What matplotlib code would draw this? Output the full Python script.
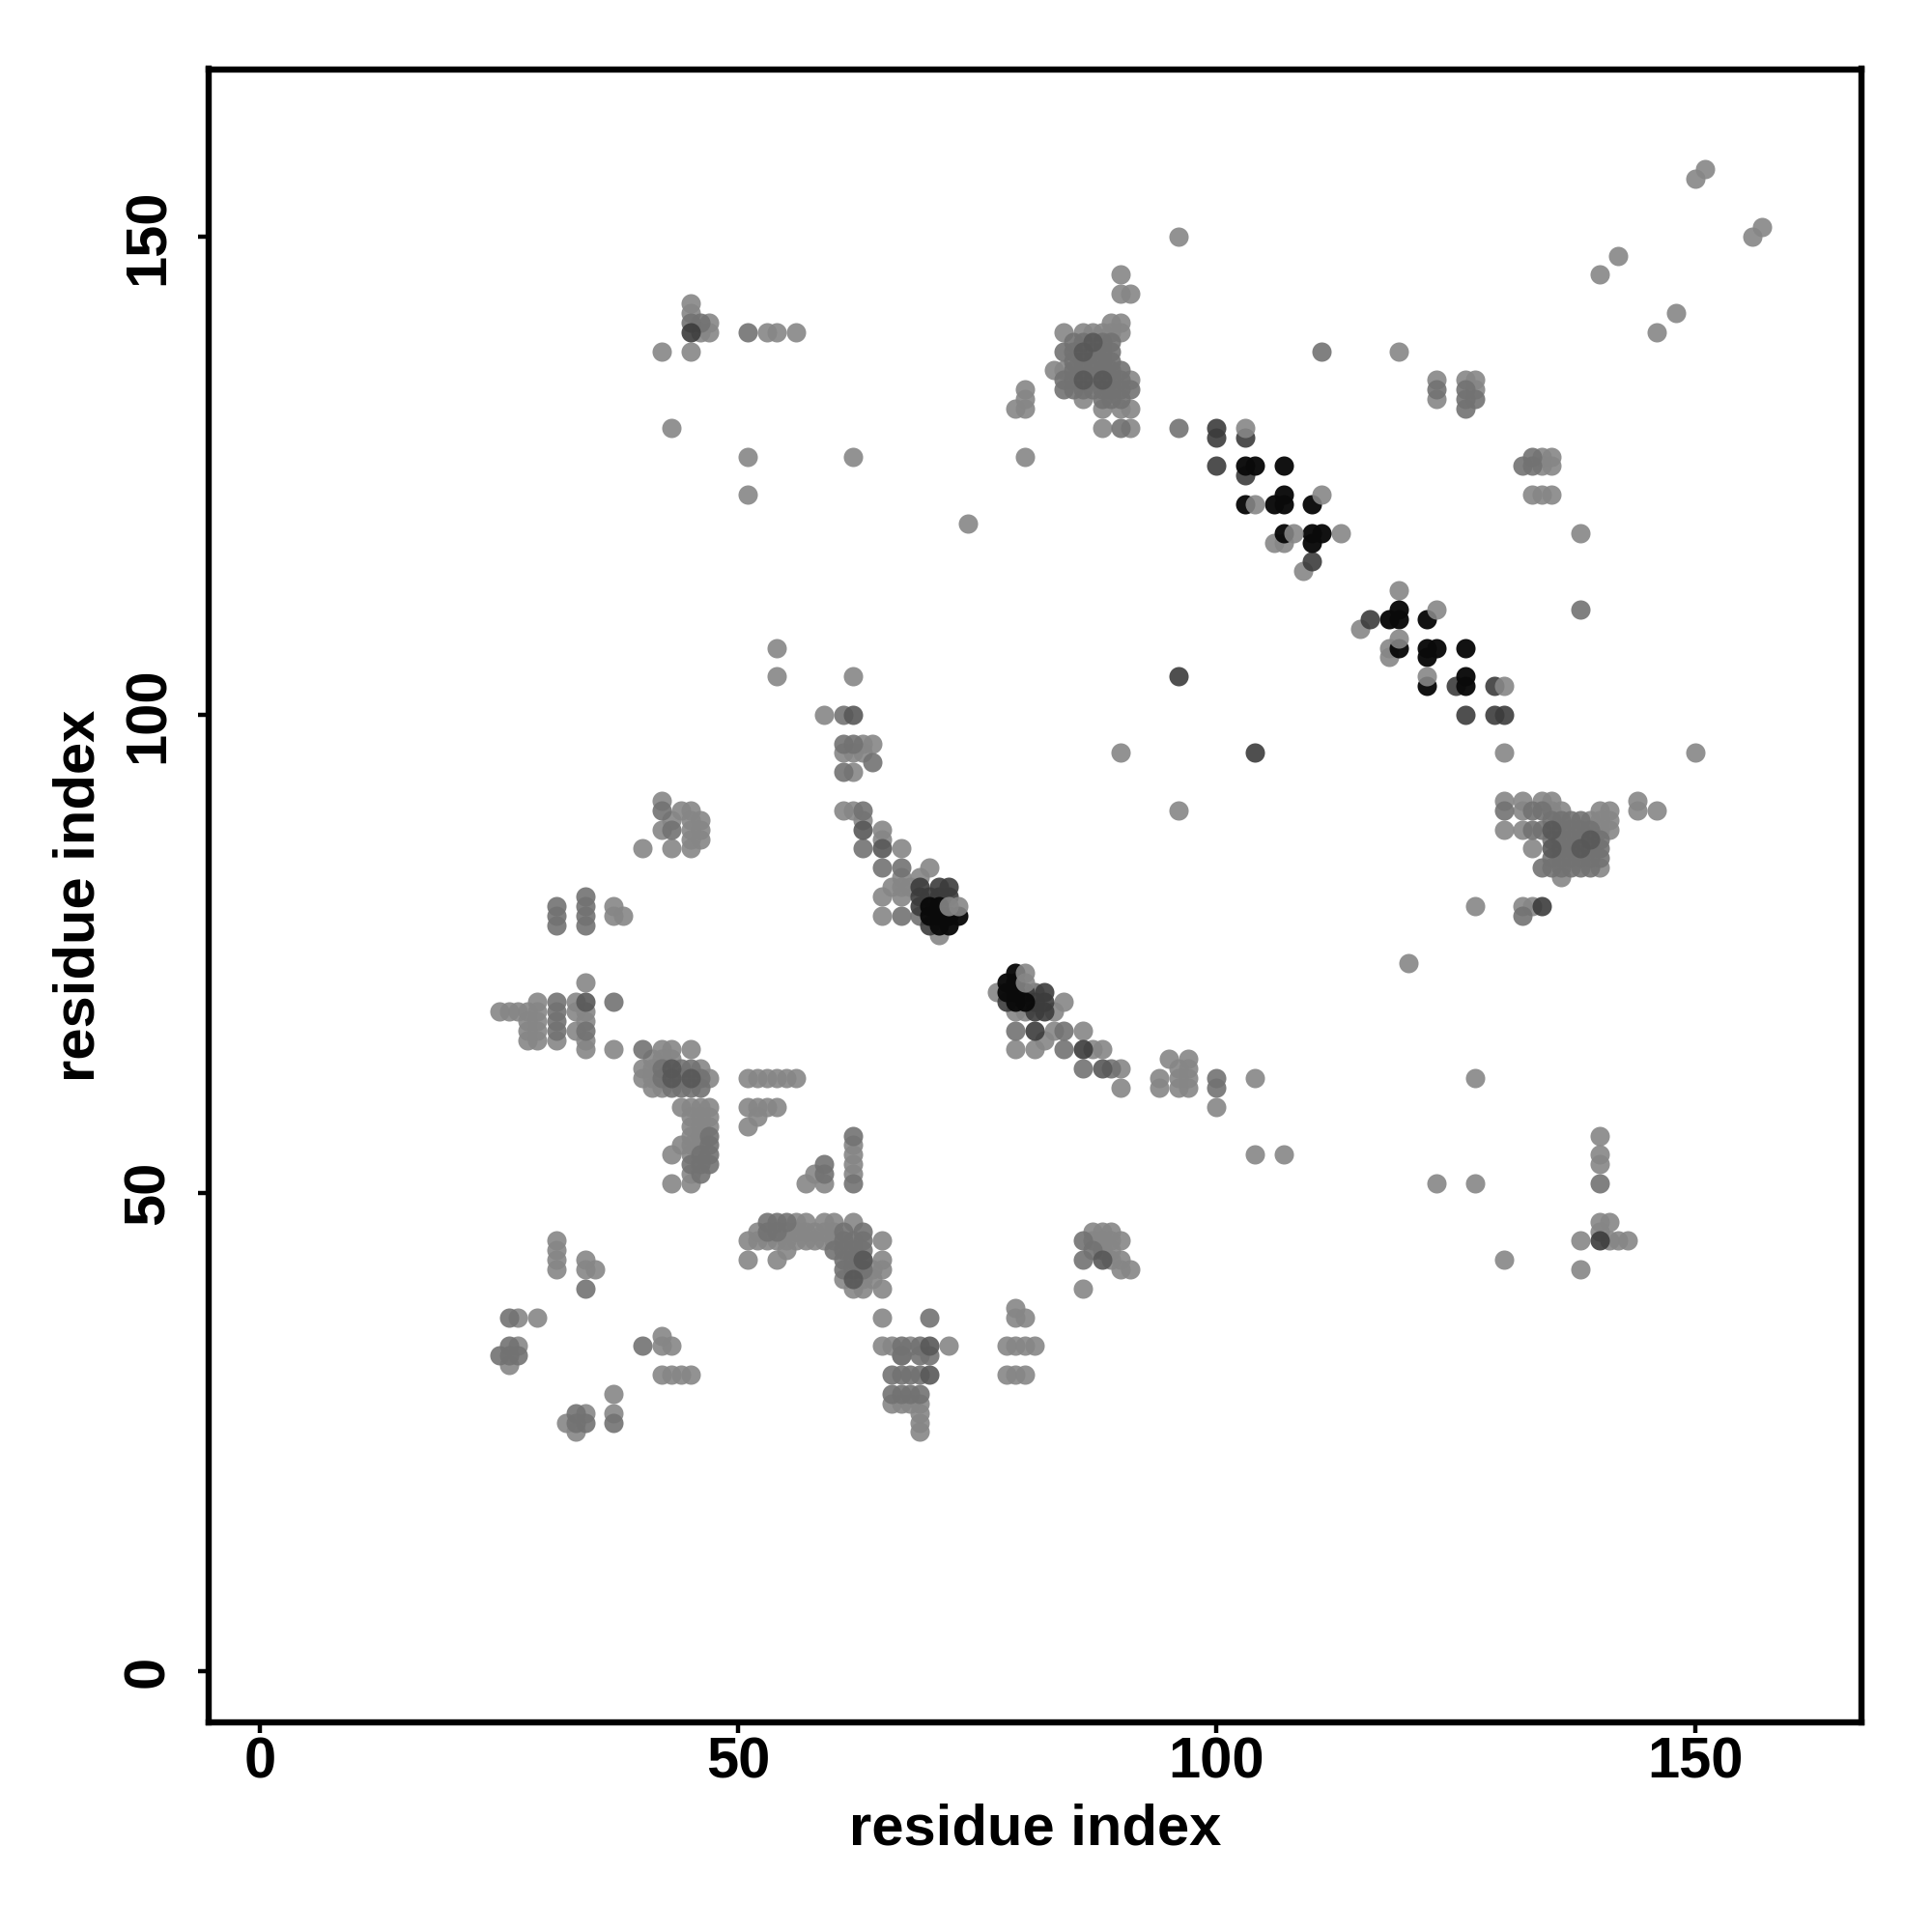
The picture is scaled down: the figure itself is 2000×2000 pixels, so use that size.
import matplotlib
matplotlib.use("Agg")
from matplotlib import pyplot as plt

# (residue x, residue y) pairs, one list per grey level
black = [
    (107,126),(103,126),(104,126),(103,122),(106,122),(107,122),(107,123),(110,122),
    (107,119),(110,119),(111,119),(110,118),(119,111),(119,110),(118,110),(119,107),
    (122,110),(122,107),(123,107),(122,106),(126,107),(122,103),(126,104),(126,103),
    (70,80),(70,79),(71,79),(72,79),(73,79),(71,78),(72,78),(71,80),
    (79,73),(78,72),(79,72),(78,71),(79,71),(79,70),(80,70),
]
dark = [
    (100,130),(100,129),(103,129),(100,126),(103,125),(110,116),(116,110),
    (125,103),(129,103),(126,100),(129,100),(130,100),(96,104),(104,96),(45,140),
    (69,82),(69,81),(69,80),(70,78),(72,82),(72,81),(71,81),(71,82),(70,81),
    (78,70),(81,69),(82,69),(82,70),(82,71),(81,70),(80,71),(81,67),(86,65),
    (140,45),(134,80),
]
# darker spots inside the dense clusters
dim = [
    (62,100),(63,88),(65,86),(63,43),(62,41),(34,70),(43,63),(43,62),(45,62),
    (86,135),(88,135),(86,138),(87,139),(135,88),(135,86),(138,86),(139,87),
    (70,34),(70,31),(88,43),(88,63),
]
mid = [
    (51,140),(45,141),(46,141),(84,138),(84,135),(84,134),(85,139),(86,139),(88,139),(89,139),
    (85,138),(87,138),(88,138),(89,138),(85,137),(86,137),(87,137),(88,137),(89,137),
    (85,136),(86,136),(87,136),(88,136),(89,136),(90,136),(85,135),(87,135),(89,135),(90,135),
    (85,134),(86,134),(87,134),(88,134),(89,134),(90,134),(91,134),(88,133),(89,133),(90,133),
    (90,130),(96,130),(111,138),(138,111),(126,134),(126,133),(126,132),(133,127),(133,126),
    (132,126),(130,90),(133,90),(134,90),(133,88),(134,84),(135,89),(136,89),(137,89),(138,89),
    (134,88),(136,88),(137,88),(138,88),(139,88),(136,87),(137,87),(138,87),(140,87),(135,87),
    (136,86),(137,86),(139,86),(140,86),(135,85),(136,85),(137,85),(138,85),(139,85),(140,85),
    (135,84),(136,84),(137,84),(138,84),(139,84),(132,79),(61,100),(61,97),(62,97),(64,95),(61,94),
    (63,90),(67,84),(65,84),(63,86),(67,79),(69,79),(81,71),(84,67),(79,67),(84,65),(86,63),(89,63),
    (100,62),(100,61),(31,80),(31,79),(31,78),(34,81),(34,80),(34,79),(34,78),
    (31,70),(31,69),(31,68),(31,67),(34,67),(37,70),(40,65),(44,63),(42,63),(44,62),(46,62),(42,62),
    (43,61),(44,61),(45,61),(46,61),(45,63),(46,54),(47,56),(47,55),(47,54),(47,53),(46,53),(46,52),
    (45,53),(59,53),(59,52),(53,47),(54,47),(55,47),(53,46),(54,46),(61,46),(62,45),(63,45),
    (61,45),(62,44),(63,44),(61,44),(61,43),(62,43),(61,42),(62,42),(63,42),(63,46),(60,44),
    (26,37),(40,34),(34,40),(26,34),(26,33),(27,33),(25,33),(66,31),(67,31),(68,31),(69,31),
    (67,34),(69,34),(69,33),(70,33),(67,33),(66,29),(67,29),(68,29),(69,29),(33,27),(33,26),(34,26),(37,26),
    (43,88),(42,90),(140,51),(123,134),(127,133),(86,43),(87,44),(62,56),(62,51),(86,45),(70,37),
]
light = [
    (150,156),(151,157),(156,150),(157,151),(140,146),(142,148),(146,140),(148,142),(96,150),
    (90,146),(90,144),(91,144),(45,143),(45,142),(46,140),(47,141),(47,140),(42,138),(45,138),
    (53,140),(54,140),(56,140),(43,130),(51,127),(51,123),(62,127),(74,120),(80,134),(80,133),
    (79,132),(80,132),(80,127),(89,141),(90,141),(84,140),(86,140),(87,140),(88,140),(89,140),(90,140),
    (83,136),(84,136),(91,135),(86,133),(88,132),(90,132),(91,132),(88,130),(91,130),
    (106,118),(107,118),(113,119),(109,115),(119,138),
    (119,113),(115,109),(118,107),(118,106),(130,96),(150,96),
    (138,119),(123,135),(123,133),(126,135),(127,135),(127,134),(134,127),(135,127),(134,126),(135,126),
    (133,123),(134,123),(135,123),(127,80),(132,80),(133,80),(120,74),(127,62),(104,62),(104,54),(107,54),
    (123,51),(127,51),(130,43),(140,56),(140,54),(140,53),(138,45),(138,42),(140,47),(141,47),(140,46),
    (141,45),(142,45),(143,45),(90,96),(96,90),(130,91),(130,88),(132,91),(132,90),(132,88),(134,91),
    (135,91),(135,90),(136,90),(133,86),(136,83),(140,84),(140,90),(141,90),(141,89),(139,89),(140,89),
    (140,88),(141,88),(144,91),(144,90),(146,90),(59,100),(63,97),(64,97),(61,96),(62,96),(63,96),(62,94),
    (61,90),(62,90),(63,89),(65,88),(65,87),(67,86),(67,83),(69,83),(70,84),(66,82),(67,82),(68,82),
    (65,81),(67,81),(65,79),(71,77),(77,71),(79,69),(80,69),(83,69),(84,70),(83,67),(86,67),
    (82,66),(79,65),(81,65),(87,65),(88,65),(90,63),(90,61),(94,62),(94,61),(95,64),(96,63),(97,64),(97,63),
    (96,62),(97,62),(96,61),(97,61),(100,59),(62,104),(54,107),(54,104),(34,72),
    (29,70),(33,70),(25,69),(26,69),(27,69),(28,69),(29,69),(33,69),(34,69),(28,68),(29,68),(34,68),
    (28,67),(29,67),(33,67),(28,66),(29,66),(31,66),(34,66),(34,65),(37,65),(37,80),(37,79),(38,79),
    (42,65),(43,65),(45,65),(41,64),(42,64),(43,64),(40,63),(41,63),(46,63),(40,62),(41,62),(47,62),
    (41,61),(42,61),(51,62),(52,62),(53,62),(54,62),(55,62),(56,62),(44,59),(45,59),(46,59),(47,59),
    (51,59),(52,59),(53,59),(54,59),(45,58),(46,58),(47,58),(52,58),(51,57),(45,57),(46,57),(47,57),
    (45,56),(46,56),(44,55),(45,55),(46,55),(43,54),(45,54),(45,52),(43,51),(45,51),(57,51),(58,52),(59,51),
    (62,55),(62,54),(62,53),(62,52),(55,46),(56,47),(57,47),(59,47),(60,47),(62,47),
    (52,46),(55,45),(56,46),(57,46),(58,46),(59,46),(60,46),(51,45),(52,45),(53,45),(54,45),(56,45),(57,45),
    (58,45),(59,45),(60,45),(65,45),(55,44),(51,43),(54,43),(63,43),(65,43),(64,42),(65,42),(61,41),(63,41),
    (64,41),(62,40),(63,40),(65,40),(31,45),(31,44),(31,43),(31,42),(34,43),(34,42),(35,42),
    (27,37),(29,37),(65,37),(27,34),(26,32),(42,35),(42,34),(43,34),(65,34),(66,34),(68,34),(72,34),
    (67,33),(42,31),(43,31),(44,31),(45,31),(37,29),(67,28),(66,28),(68,28),(69,28),(34,27),(37,27),(69,27),
    (32,26),(69,26),(33,25),(69,25),(79,38),(79,37),(80,37),(78,34),(79,34),(80,34),(81,34),
    (78,31),(79,31),(80,31),(86,40),(87,46),(88,46),(89,46),(87,45),(88,45),(89,45),(90,45),
    (88,44),(89,44),(89,43),(90,43),(90,42),(91,42),(40,86),(42,91),(44,90),(45,90),(43,89),(45,89),
    (46,89),(42,88),(45,88),(46,88),(45,87),(46,87),(43,86),(45,86),
]
# light points that lie over the black ones
over_black = [
    (103,130),(104,122),(108,119),(111,123),(123,111),(130,103),(119,108),(122,104),
    (72,80),(73,80),(80,73),(80,72),
]

x_ticks = [0, 50, 100, 150]
y_ticks = [0, 50, 100, 150]
x_title = "residue index"
y_title = "residue index"

plt.rcParams["font.family"] = ["Liberation Sans", "DejaVu Sans"]
plt.rcParams["font.weight"] = "bold"

fig = plt.figure(figsize=(10, 10), dpi=200)
ax = fig.add_axes([216 / 2000, 1 - 1783 / 2000, (1927 - 216) / 2000, (1783 - 71.5) / 2000])

groups = [(light, "#868686", 0.9), (mid, "#727272", 0.9), (dim, "#585858", 0.9),
          (dark, "#3c3c3c", 0.9), (black, "#0a0a0a", 0.97), (over_black, "#868686", 0.9)]
for pts, col, a in groups:
    xs, ys = zip(*pts)
    ax.scatter(xs, ys, s=52, c=col, alpha=a, linewidths=0, zorder=3)

ax.set_xlim(-5.35, 167.4)
ax.set_ylim(-5.35, 167.5)
ax.set_xticks(x_ticks)
ax.set_yticks(y_ticks)
ax.tick_params(length=4, width=1.6, labelsize=21.5)
ax.tick_params(axis="x", pad=1.2)
ax.tick_params(axis="y", pad=8.4)
plt.setp(ax.get_yticklabels(), rotation=90, va="center")
ax.set_xlabel(x_title, fontsize=21.5, fontweight="bold", labelpad=5.2)
ax.set_ylabel(y_title, fontsize=21.5, fontweight="bold", labelpad=6)
for s in ax.spines.values():
    s.set_linewidth(2.3)

fig.savefig("out.png", dpi=200)
